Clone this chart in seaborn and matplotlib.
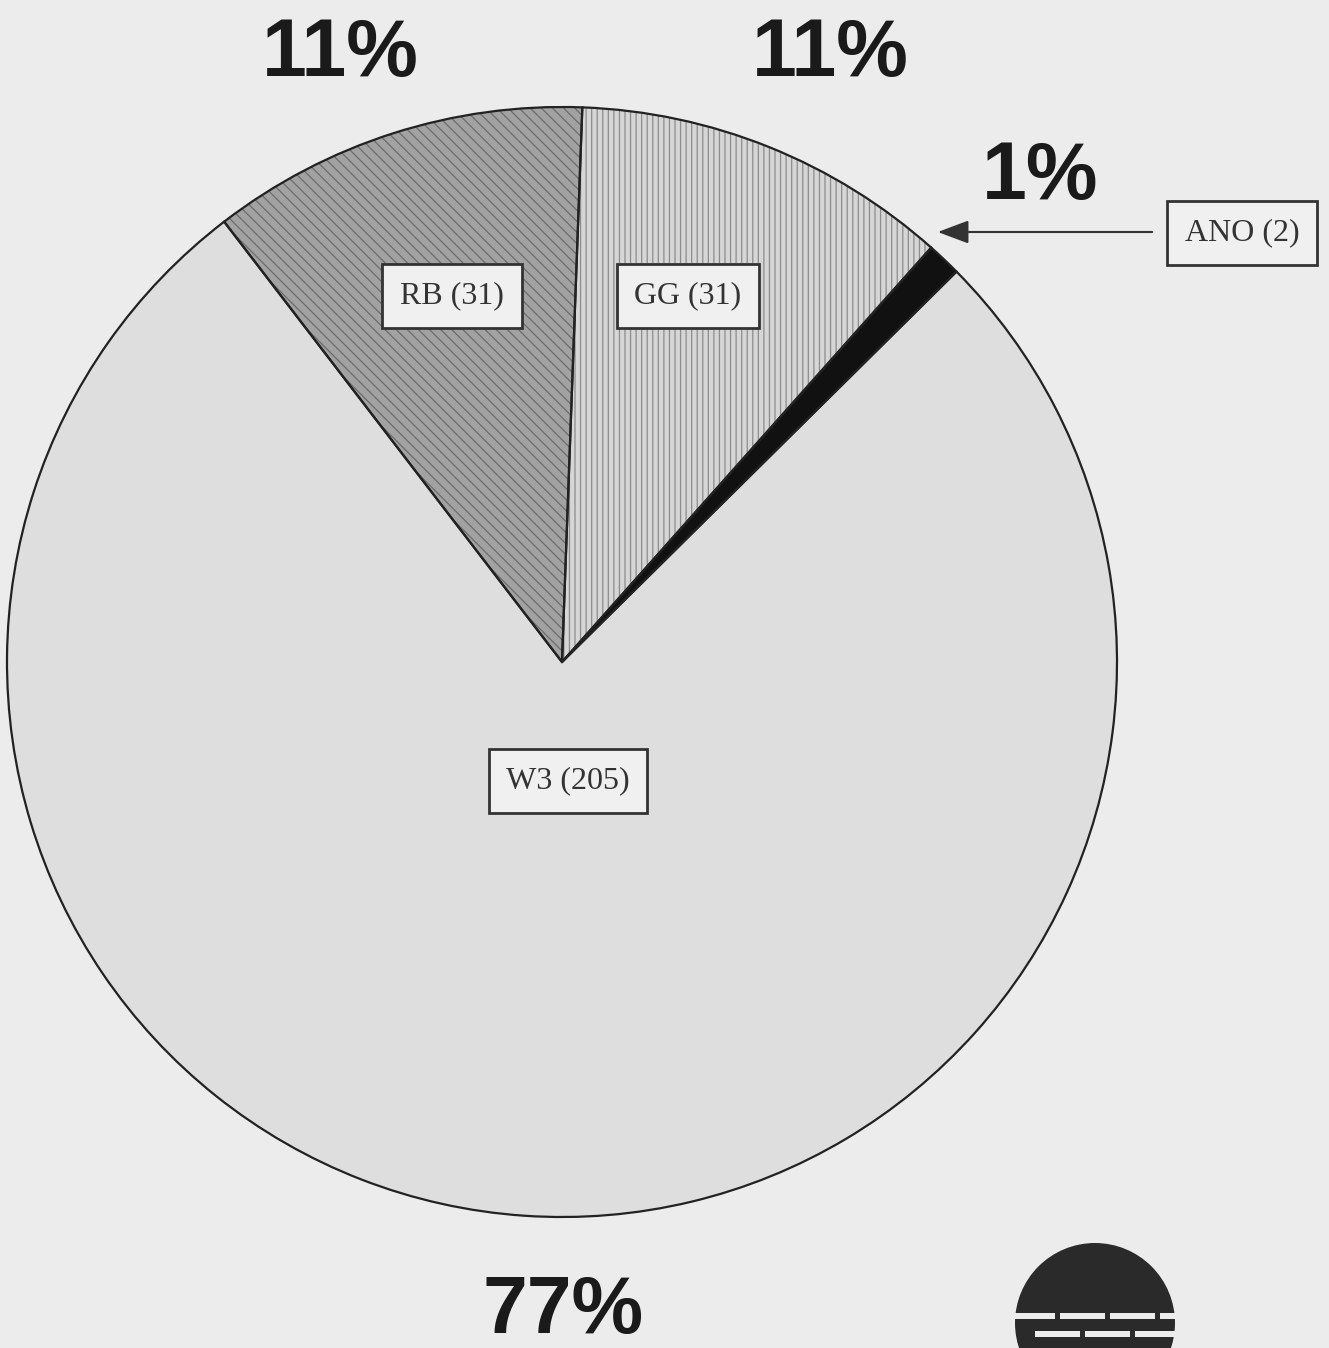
import matplotlib
matplotlib.use("Agg")
import matplotlib.pyplot as plt
import seaborn as sns
from matplotlib.patches import Circle, Rectangle

# Data
units = ["RB", "GG", "ANO", "W3"]
counts = [31, 31, 2, 205]
percents = [11, 11, 1, 77]

fill_colors = ["#a2a2a2", "#d6d6d6", "#111111", "#dedede"]
hatch_colors = ["#6c6c6c", "#8c8c8c", "#111111", "#dedede"]
hatches = ["\\\\\\", "|||", "", ""]

sns.set_theme(style="white")
plt.rcParams["font.family"] = ["Liberation Sans", "DejaVu Sans"]
plt.rcParams["hatch.linewidth"] = 0.9

W, H = 1329, 1348
fig = plt.figure(figsize=(W / 100, H / 100), dpi=100)
fig.patch.set_facecolor("#ececec")
ax = fig.add_axes([0, 0, 1, 1])
ax.set_facecolor("#ececec")
ax.set_xlim(0, W)
ax.set_ylim(0, H)
ax.axis("off")

cx, cy, r = 562, H - 662, 555
start = 127.5

# filled / hatched wedges
wedges, _ = ax.pie(percents, colors=fill_colors, startangle=start, counterclock=False,
                   center=(cx, cy), radius=r, frame=True,
                   wedgeprops=dict(linewidth=0))
for w, h, hc in zip(wedges, hatches, hatch_colors):
    w.set_hatch(h)
    w.set_edgecolor(hc)
    w.set_linewidth(0)

# outlines on top
ax.pie(percents, colors=["none"] * 4, startangle=start, counterclock=False,
       center=(cx, cy), radius=r, frame=True,
       wedgeprops=dict(linewidth=1.6, edgecolor="#222222", fill=False))
ax.set_xlim(0, W)
ax.set_ylim(0, H)
ax.axis("off")

# percentage labels
pct_pos = [(340, 55), (830, 55), (1040, 178), (563, 1312)]
for p, (x, y) in zip(percents, pct_pos):
    ax.text(x, H - y, f"{p}%", fontsize=58, fontweight="bold", ha="center", va="center",
            color="#1a1a1a")

# boxed unit labels
box_pos = [(452, 296), (688, 296), (1242, 233), (568, 781)]
for u, c, (x, y) in zip(units, counts, box_pos):
    ax.text(x, H - y, f"{u} ({c})", fontsize=23, family=["Liberation Serif", "DejaVu Serif"],
            ha="center", va="center", color="#333333",
            bbox=dict(boxstyle="square,pad=0.55", facecolor="#f0f0f0", edgecolor="#333333",
                      linewidth=2))

# arrow to the ANO slice
ax.annotate("", xy=(935, H - 232), xytext=(1155, H - 232),
            arrowprops=dict(arrowstyle="-|>,head_length=1.6,head_width=0.6",
                            color="#333333", lw=1.5))

# logo at lower right
lx, ly, lr = 1095, H - 1323, 80
ax.add_patch(Circle((lx, ly), lr, facecolor="#2a2a2a", edgecolor="none"))
for yy, offs in [(1316, 0), (1334, 1)]:
    for i in range(4):
        x0 = 1010 + i * 50 + offs * 25
        ax.add_patch(Rectangle((x0, H - yy - 3), 45, 6, facecolor="#ececec", edgecolor="none"))

fig.savefig("out.png", dpi=100, facecolor=fig.get_facecolor())
